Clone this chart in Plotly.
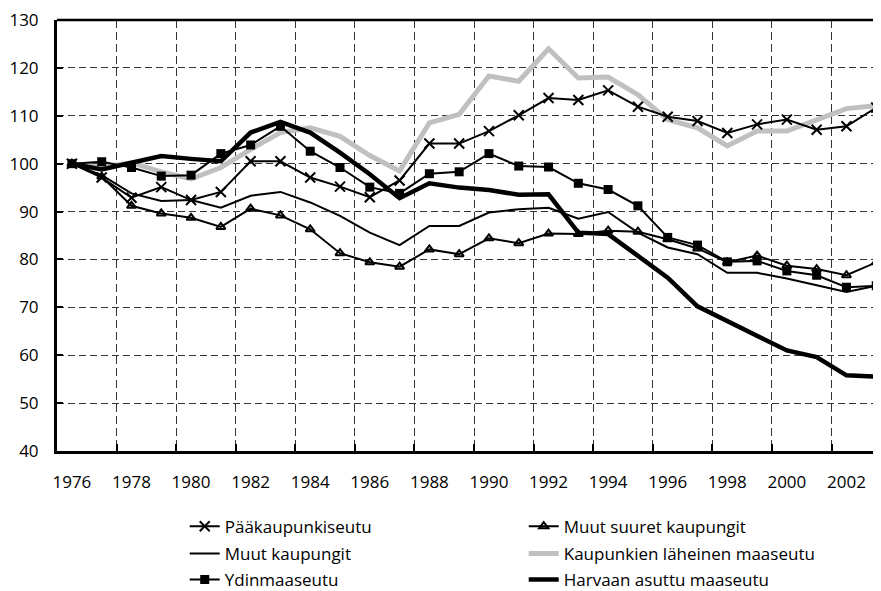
import plotly.graph_objects as go

years = list(range(1976, 2004))

paakaupunkiseutu = [100.0, 97.1, 92.9, 95.1, 92.4, 94.1, 100.5, 100.5, 97.1, 95.2, 93.0, 96.5, 104.2, 104.2,
                    106.8, 110.1, 113.7, 113.3, 115.3, 111.9, 109.8, 108.9, 106.4, 108.2, 109.2, 107.1, 107.8, 111.7]
muut_suuret = [100.0, 97.3, 91.2, 89.6, 88.7, 86.8, 90.6, 89.2, 86.3, 81.3, 79.4, 78.5, 82.1, 81.1,
               84.4, 83.4, 85.4, 85.3, 86.0, 85.8, 84.2, 82.3, 79.4, 80.8, 78.7, 78.0, 76.7, 79.4]
muut_kaupungit = [100.0, 97.6, 93.8, 92.2, 92.4, 90.8, 93.3, 94.1, 91.9, 89.1, 85.6, 83.0, 87.0, 87.0,
                  89.8, 90.5, 90.8, 88.5, 89.9, 85.6, 82.5, 81.1, 77.2, 77.2, 76.0, 74.6, 73.2, 74.5]
kaupunkien_laheinen = [100.0, 99.3, 100.2, 98.3, 96.8, 99.2, 103.0, 106.5, 107.5, 105.7, 101.7, 98.5, 108.5, 110.3,
                       118.3, 117.2, 124.0, 117.9, 118.1, 114.4, 109.2, 107.5, 103.7, 106.8, 106.8, 109.2, 111.5, 112.1]
ydinmaaseutu = [100.0, 100.4, 99.2, 97.4, 97.6, 102.1, 103.9, 107.8, 102.6, 99.2, 95.1, 93.8, 97.9, 98.3,
                102.1, 99.5, 99.3, 95.9, 94.6, 91.2, 84.6, 83.0, 79.5, 79.7, 77.6, 76.7, 74.2, 74.5]
harvaan_asuttu = [100.0, 98.8, 100.2, 101.6, 101.0, 100.5, 106.5, 108.7, 106.5, 102.3, 97.8, 92.8, 95.9, 95.0,
                  94.5, 93.5, 93.6, 85.6, 85.3, 80.8, 76.2, 70.2, 67.2, 64.0, 61.0, 59.6, 55.8, 55.5]

label_years = list(range(1976, 2003, 2))
grid_years = [y + 0.5 for y in range(1977, 2002, 2)]
y_ticks = list(range(40, 131, 10))

FONT = "Open Sans, Noto Sans, sans-serif"

fig = go.Figure()

fig.add_trace(go.Scatter(x=years, y=kaupunkien_laheinen, name="Kaupunkien läheinen maaseutu",
                         mode="lines", line=dict(color="#c0c0c0", width=5), legend="legend2", legendrank=2))
fig.add_trace(go.Scatter(x=years, y=paakaupunkiseutu, name="Pääkaupunkiseutu", mode="lines+markers",
                         line=dict(color="black", width=2),
                         marker=dict(symbol="x-thin", size=10, line=dict(color="black", width=2)),
                         legend="legend", legendrank=1))
fig.add_trace(go.Scatter(x=years, y=muut_suuret, name="Muut suuret kaupungit", mode="lines+markers",
                         line=dict(color="black", width=2),
                         marker=dict(symbol="triangle-up-open", size=8, color="black",
                                     line=dict(color="black", width=2)),
                         legend="legend", legendrank=2))
fig.add_trace(go.Scatter(x=years, y=muut_kaupungit, name="Muut kaupungit", mode="lines",
                         line=dict(color="black", width=2), legend="legend2", legendrank=1))
fig.add_trace(go.Scatter(x=years, y=ydinmaaseutu, name="Ydinmaaseutu", mode="lines+markers",
                         line=dict(color="black", width=2),
                         marker=dict(symbol="square", size=9, color="black"), legend="legend3", legendrank=1))
fig.add_trace(go.Scatter(x=years, y=harvaan_asuttu, name="Harvaan asuttu maaseutu", mode="lines",
                         line=dict(color="black", width=4.5), legend="legend3", legendrank=2))

# invisible trace to activate the label axis
fig.add_trace(go.Scatter(x=[years[0]], y=[y_ticks[0]], xaxis="x2", mode="markers",
                         marker=dict(opacity=0), showlegend=False, hoverinfo="skip"))

xr = [1975.5, 2003.16]


def leg(ypos):
    return dict(orientation="h", x=0.155, xanchor="left", y=ypos, yanchor="middle",
                entrywidth=294, entrywidthmode="pixels", traceorder="normal",
                font=dict(family=FONT, size=17, color="black"), itemwidth=30,
                bgcolor="rgba(0,0,0,0)")


H = 431.0
fig.update_layout(
    width=873, height=583,
    margin=dict(l=49, r=0, t=12, b=140, autoexpand=False),
    paper_bgcolor="white", plot_bgcolor="white",
    font=dict(family=FONT, size=17, color="black"),
    showlegend=True,
    legend=leg(-(526.7 - 451) / H),
    legend2=leg(-(554.0 - 451) / H),
    legend3=leg(-(580.0 - 451) / H),
    xaxis=dict(range=xr, tickmode="array", tickvals=grid_years, showticklabels=False,
               ticks="inside", ticklen=7, tickwidth=2, tickcolor="black",
               showline=True, linewidth=3, linecolor="black",
               showgrid=True, gridcolor="#333", gridwidth=1, griddash="8px,4px",
               zeroline=False, automargin=False),
    xaxis2=dict(range=xr, overlaying="x", side="bottom", anchor="y", tickmode="array",
                tickvals=label_years, ticktext=[str(v) for v in label_years],
                showline=False, showgrid=False, ticks="", zeroline=False, automargin=False,
                ticklabeloverflow="allow",
                ticklabelstandoff=19, tickfont=dict(family=FONT, size=17, color="black")),
    yaxis=dict(range=[40, 130], tickmode="array", tickvals=y_ticks,
               ticks="inside", ticklen=6, tickwidth=2, tickcolor="black",
               showline=True, linewidth=3, linecolor="black",
               showgrid=True, gridcolor="#333", gridwidth=1, griddash="7px,4px",
               zeroline=False, automargin=False, ticklabelstandoff=12,
               ticklabeloverflow="allow",
               tickfont=dict(family=FONT, size=17, color="black")),
    shapes=[dict(type="line", xref="paper", yref="paper", x0=0, x1=1, y0=1, y1=1,
                 line=dict(color="black", width=2.5))],
)

fig.write_html("out.html")
